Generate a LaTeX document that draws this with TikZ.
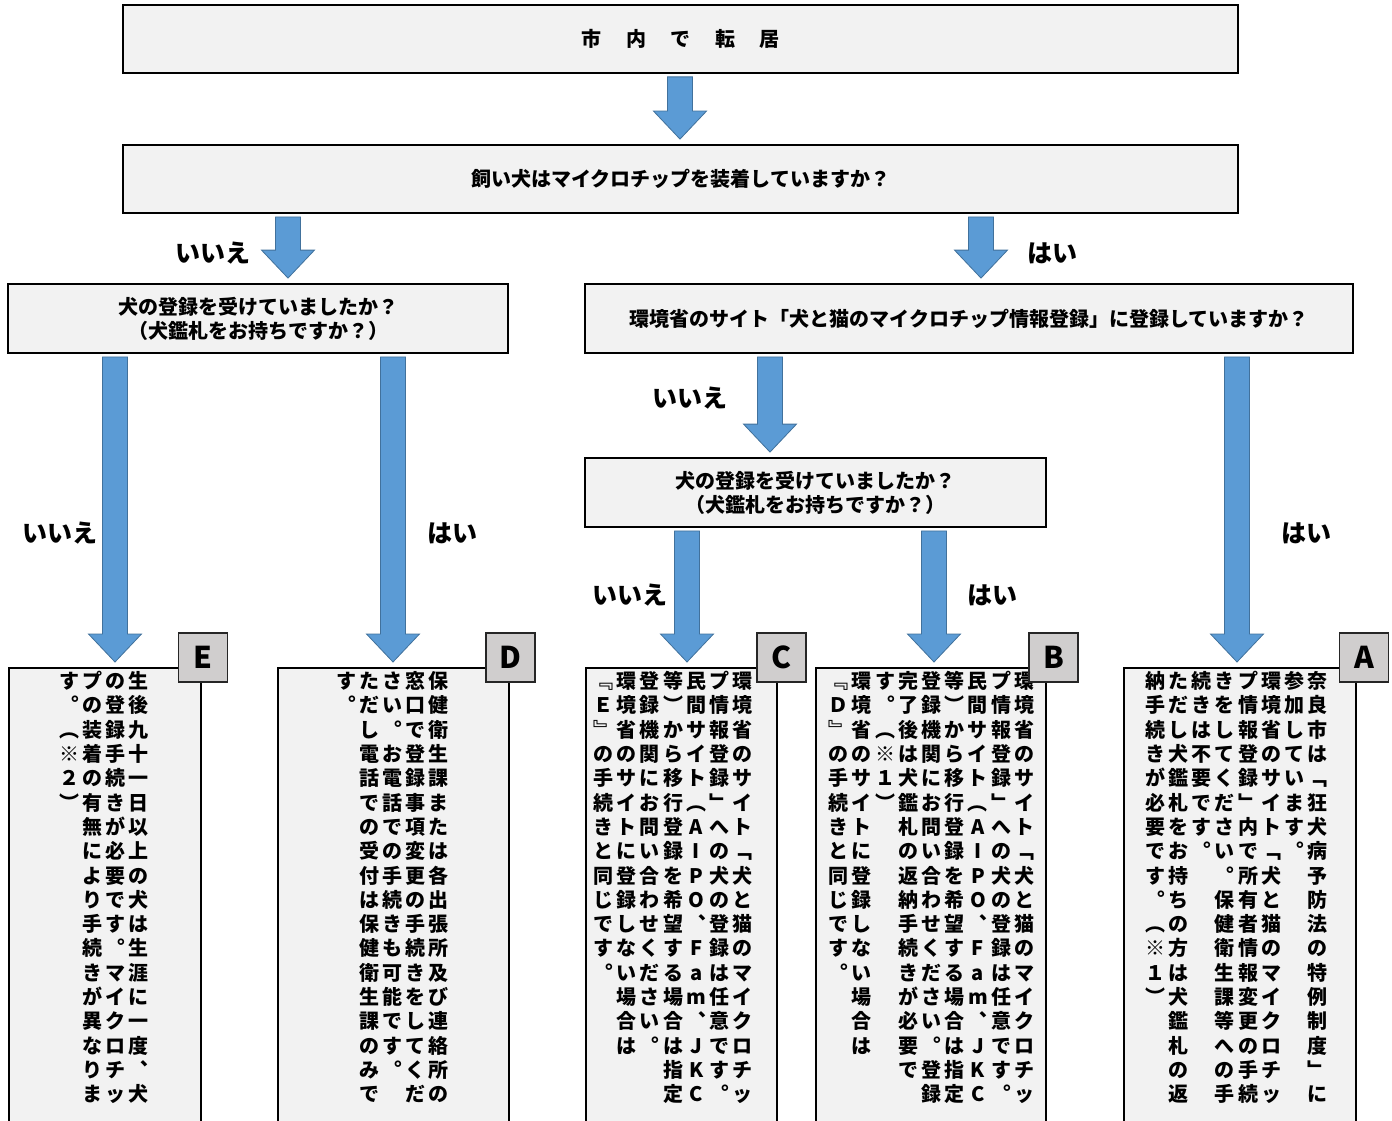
\documentclass[tikz,border=0pt]{standalone}
\usepackage{fontspec}
\setmainfont{Noto Sans CJK JP}
\usetikzlibrary{calc}
\definecolor{boxgray}{HTML}{F2F2F2}
\definecolor{taggray}{HTML}{D0CECE}
\definecolor{arrowblue}{HTML}{5B9BD5}
\definecolor{arrowedge}{HTML}{41719C}
\def\tateend{}
\def\tatechar#1{\ifx#1\tateend\else\hbox to 23.2pt{\hss#1\hss}\expandafter\tatechar\fi}
\newcommand\tatecol[1]{\vtop{\baselineskip=24.3pt\lineskiplimit=-50pt\tatechar#1\tateend}}
\tikzset{
  qbox/.style={draw=black, line width=1.8pt, fill=boxgray, inner sep=0pt, align=center,
    font=\bfseries\fontsize{20}{24}\selectfont},
  ansbox/.style={draw=black, line width=1.8pt, fill=boxgray, anchor=north west, inner sep=0pt},
  tag/.style={draw=black!85, line width=1.4pt, fill=taggray, minimum size=49pt, inner sep=0pt,
    font=\bfseries\fontsize{30}{30}\selectfont},
  ans/.style={inner sep=0pt, font=\bfseries\fontsize{25}{25}\selectfont},
  tate/.style={anchor=base, inner sep=0pt, font=\bfseries\fontsize{20}{24}\selectfont},
  blockarrow/.style={fill=arrowblue, draw=arrowedge, line width=0.8pt, line join=miter}
}
\newcommand\flowarrow[3]{%
  \draw[blockarrow] let \p0=(#1,0), \p1=(#2.south), \p2=(#3.north) in
    (\x0-12.5pt,\y1-3pt) -- (\x0+12.5pt,\y1-3pt) -- (\x0+12.5pt,\y2+33pt) -- (\x0+26.5pt,\y2+33pt)
    -- (\x0,\y2+5pt) -- (\x0-26.5pt,\y2+33pt) -- (\x0-12.5pt,\y2+33pt) -- cycle;}
\begin{document}
\begin{tikzpicture}[x=1pt,y=-1pt]
\useasboundingbox (0,0) rectangle (1392,1121);
\node[qbox, minimum width=1115, minimum height=68] (move) at (680.5,39)
  {市\hspace{24.5pt}内\hspace{24.5pt}で\hspace{24.5pt}転\hspace{24.5pt}居};
\node[qbox, minimum width=1115, minimum height=68] (chip) at (680.5,179) {飼い犬はマイクロチップを装着していますか？};
\node[qbox, minimum width=500, minimum height=69] (regL) at (258,318.5) {犬の登録を受けていましたか？\\（犬鑑札をお持ちですか？）};
\node[qbox, minimum width=768, minimum height=69] (site) at (969,318.5)
  {環境省のサイト「犬と猫のマイクロチップ情報登録」に登録していますか？};
\node[qbox, minimum width=461, minimum height=69] (regR) at (815.5,492.5) {犬の登録を受けていましたか？\\（犬鑑札をお持ちですか？）};

\node[ansbox, minimum width=192, minimum height=462] (boxE) at (8,667) {};
\node[ansbox, minimum width=231, minimum height=462] (boxD) at (277,667) {};
\node[ansbox, minimum width=191, minimum height=462] (boxC) at (585,667) {};
\node[ansbox, minimum width=230, minimum height=462] (boxB) at (815,667) {};
\node[ansbox, minimum width=232, minimum height=462] (boxA) at (1123,667) {};

\node[tate] (textE) at (104,688.6) {\tatecol{す︒︵※２︶}\tatecol{プの装着の有無により手続きが異なりま}%
  \tatecol{の登録手続きが必要です︒マイクロチッ}\tatecol{生後九十一日以上の犬は生涯に一度︑犬}};
\node[tate] (textD) at (392.5,688.6) {\tatecol{す︒}\tatecol{ただし電話での受付は保健衛生課のみで}%
  \tatecol{さい︒お電話での手続きも可能です︒}\tatecol{窓口で登録事項変更の手続きをしてくだ}%
  \tatecol{保健衛生課または各出張所及び連絡所の}};
\node[tate] (textC) at (673,688.6) {\tatecol{﹃Ｅ﹄の手続きと同じです︒}\tatecol{環境省のサイトに登録しない場合は}%
  \tatecol{登録機関にお問い合わせください︒}\tatecol{等︶から移行登録を希望する場合は指定}%
  \tatecol{民間サイト︵AIPO︑Fam︑JKC}\tatecol{プ情報登録﹂への犬の登録は任意です︒}%
  \tatecol{環境省のサイト﹁犬と猫のマイクロチッ}};
\node[tate] (textB) at (931.5,688.6) {\tatecol{﹃Ｄ﹄の手続きと同じです︒}\tatecol{環境省のサイトに登録しない場合は}%
  \tatecol{す︒︵※１︶}\tatecol{完了後は犬鑑札の返納手続きが必要で}%
  \tatecol{登録機関にお問い合わせください︒登録}\tatecol{等︶から移行登録を希望する場合は指定}%
  \tatecol{民間サイト︵AIPO︑Fam︑JKC}\tatecol{プ情報登録﹂への犬の登録は任意です︒}%
  \tatecol{環境省のサイト﹁犬と猫のマイクロチッ}};
\node[tate] (textA) at (1236.5,688.6) {\tatecol{納手続きが必要です︒︵※１︶}\tatecol{ただし犬鑑札をお持ちの方は犬鑑札の返}%
  \tatecol{続きは不要です︒}\tatecol{きをしてください︒保健衛生課等への手}%
  \tatecol{プ情報登録﹂内で所有者情報変更の手続}\tatecol{環境省のサイト﹁犬と猫のマイクロチッ}%
  \tatecol{参加しています︒}\tatecol{奈良市は﹁狂犬病予防法の特例制度﹂に}};

\node[tag] (tagE) at (203,657.5) {E};
\node[tag] (tagD) at (510.5,657.5) {D};
\node[tag] (tagC) at (781.5,657.5) {C};
\node[tag] (tagB) at (1053.5,657.5) {B};
\node[tag] (tagA) at (1364,657.5) {A};

\flowarrow{680}{move}{chip}
\flowarrow{288}{chip}{regL}
\flowarrow{981}{chip}{site}
\flowarrow{115}{regL}{boxE}
\flowarrow{393}{regL}{boxD}
\flowarrow{770}{site}{regR}
\flowarrow{1237}{site}{boxA}
\flowarrow{687}{regR}{boxC}
\flowarrow{934}{regR}{boxB}

\node[ans] (noChip) at (213,253) {いいえ};
\node[ans] (yesChip) at (1052,253) {はい};
\node[ans] (noE) at (60,533) {いいえ};
\node[ans] (yesD) at (452,533) {はい};
\node[ans] (noSite) at (690,398) {いいえ};
\node[ans] (yesA) at (1306,533) {はい};
\node[ans] (noC) at (630,595) {いいえ};
\node[ans] (yesB) at (992,595) {はい};
\end{tikzpicture}
\end{document}
